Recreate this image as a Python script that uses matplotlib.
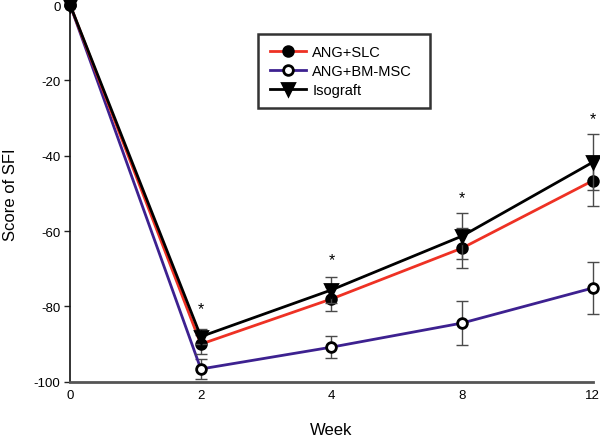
import matplotlib
matplotlib.use("Agg")
import matplotlib.pyplot as plt
import numpy as np

plt.rcParams['font.family'] = ['Liberation Sans', 'DejaVu Sans']
plt.rcParams['axes.unicode_minus'] = False

weeks = ["0", "2", "4", "8", "12"]
slc_mean = [0, -90.0, -78.0, -64.5, -46.6]
slc_err = [0, 2.5, 3.2, 5.4, 6.6]
msc_mean = [0, -96.6, -90.8, -84.4, -75.1]
msc_err = [0, 2.7, 3.0, 5.9, 6.8]
iso_mean = [0, -88.0, -75.6, -61.3, -41.7]
iso_err = [0, 2.0, 3.5, 6.0, 7.5]
star_y = [None, -80.5, -67.5, -51.0, -30.0]

fig = plt.figure(figsize=(6.0, 4.39), dpi=100)
ax = fig.add_axes([0.117, 0.128, 0.871, 0.858])
x = np.arange(len(weeks))

ecol = '#4a4a4a'
series = [
    ("ANG+BM-MSC", msc_mean, msc_err, '#3d2190', 'o', 'white', 1),
    ("ANG+SLC", slc_mean, slc_err, '#ee3124', 'o', 'black', 2),
    ("Isograft", iso_mean, iso_err, 'black', 'v', 'black', 3),
]
handles = {}
for name, m, e, c, mk, fc, z in series:
    ax.errorbar(x[1:], m[1:], yerr=e[1:], fmt='none', ecolor=ecol, elinewidth=1.0,
                capsize=4.5, capthick=1.0, zorder=z, clip_on=False)
    ln, = ax.plot(x, m, color=c, lw=2.0, marker=mk, markersize=7 if mk == 'o' else 8,
                  markerfacecolor=fc, markeredgecolor='black', markeredgewidth=2.0,
                  zorder=z + 0.5, clip_on=False, label=name)
    handles[name] = ln

for xi, sy in zip(x, star_y):
    if sy is not None:
        ax.text(xi, sy, "*", ha='center', va='center', fontsize=11.5, color='black')

ax.set_xlim(0, 4)
ax.set_ylim(-100, 0)
ax.set_xticks(x)
ax.set_xticklabels(weeks)
ax.set_yticks([0, -20, -40, -60, -80, -100])
ax.tick_params(axis='x', length=0, labelsize=9.5, pad=5.5)
ax.tick_params(axis='y', length=4.5, width=1, labelsize=9.5, direction='out',
               color='#222222', pad=2.5)
for s in ['top', 'right']:
    ax.spines[s].set_visible(False)
ax.spines['left'].set_color('#111111')
ax.spines['left'].set_linewidth(1.2)
ax.spines['bottom'].set_color('#555555')
ax.spines['bottom'].set_linewidth(2.0)

ax.set_xlabel("Week", fontsize=12)
ax.xaxis.set_label_coords(0.5, -0.106)
ax.set_ylabel("Score of SFI", fontsize=12)
ax.yaxis.set_label_coords(-0.0995, 0.5)

leg = ax.legend([handles["ANG+SLC"], handles["ANG+BM-MSC"], handles["Isograft"]],
                ["ANG+SLC", "ANG+BM-MSC", "Isograft"],
                loc='upper left', bbox_to_anchor=(0.36, 0.0, 0.329, 0.924),
                mode='expand', fontsize=10.5,
                frameon=True, fancybox=False, edgecolor='black', handlelength=2.5,
                borderpad=0.8, labelspacing=0.32, handletextpad=0.4, borderaxespad=0)
leg.get_frame().set_linewidth(1.8)

fig.savefig("out.png", dpi=100)
